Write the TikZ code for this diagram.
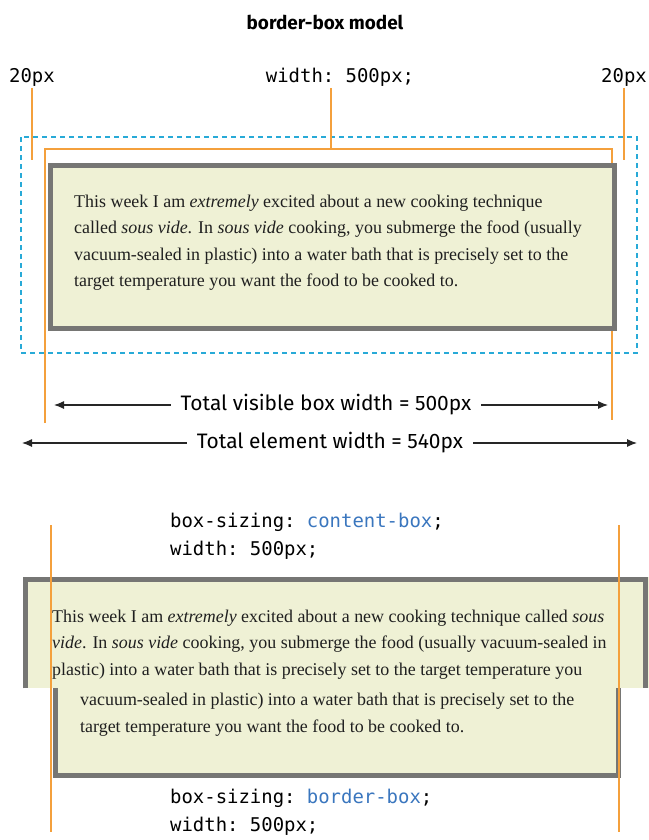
\documentclass[tikz,border=0pt]{standalone}
\usepackage{fontspec}
\setmainfont{Fira Sans}
\setmonofont{DejaVu Sans Mono}
\newfontfamily\bodyserif{Liberation Serif}
\usetikzlibrary{arrows.meta,positioning}

\definecolor{guideorange}{RGB}{244,160,60}
\definecolor{dashcyan}{RGB}{40,170,215}
\definecolor{boxfill}{RGB}{239,241,213}
\definecolor{boxedge}{RGB}{118,118,116}
\definecolor{keyword}{RGB}{58,118,190}

\tikzset{
  titletext/.style={font=\bfseries\fontsize{19}{22}\selectfont, inner sep=0},
  codetext/.style={font=\ttfamily\fontsize{19}{28}\selectfont, align=left, inner sep=1.5bp},
  dimtext/.style={font=\fontsize{21}{24}\selectfont, inner xsep=10bp, inner ysep=0},
  bodytext/.style={font=\bodyserif\fontsize{18}{26.7}\selectfont, text=black!88, align=left, anchor=north west, inner sep=0},
  guideline/.style={draw=guideorange, line width=1.4bp},
  dashline/.style={draw=dashcyan, line width=1.6bp, dash pattern=on 5bp off 4bp},
  cssbox/.style={draw=boxedge, line width=5bp, fill=boxfill, inner sep=0},
  dimarrow/.style={-{Latex[length=10bp,width=8bp]}, line width=1.1bp, black!85},
}

\begin{document}
\begin{tikzpicture}[x=1bp, y=-1bp]
	\useasboundingbox (0,0) rectangle (649,840);
	% border-box model
	\node[titletext] (title) at (325,22) {border-box model};
	\node[codetext] (padl) at (32,77) {20px};
	\node[codetext] (wtop) at (340,77) {width: 500px;};
	\node[codetext] (padr) at (624,77) {20px};
	\coordinate (mtl) at (21,137);
	\coordinate (mbr) at (637,353);
	\draw[dashline] (mtl) rectangle (mbr);
	\coordinate (padlend) at (32,160);
	\coordinate (padrend) at (624,160);
	\coordinate (wmid) at (331,149);
	\coordinate (visTL) at (45,149);
	\coordinate (visTR) at (612,149);
	\coordinate (visBL) at (45,423);
	\coordinate (visBR) at (612,420);
	\draw[guideline] (padl) -- (padlend);
	\draw[guideline] (padr) -- (padrend);
	\draw[guideline] (wtop.south -| wmid) -- (wmid);
	\draw[guideline] (visBL) -- (visTL) -- (visTR) -- (visBR);
	\node[cssbox, anchor=north west, minimum width=564bp, minimum height=163bp] (boxA) at (47.5,162.5) {};
	\node[bodytext] (textA) at (74,194.5) {This week I am \textit{extremely} excited about a new cooking technique\\
		called \textit{sous vide}. In \textit{sous vide} cooking, you submerge the food (usually\\
		vacuum-sealed in plastic) into a water bath that is precisely set to the\\
		target temperature you want the food to be cooked to.};
	% widths
	\node[dimtext] (visw) at (326,405) {Total visible box width = 500px};
	\coordinate (viswl) at (54,405);
	\coordinate (viswr) at (608,405);
	\draw[dimarrow] (visw) -- (viswl);
	\draw[dimarrow] (visw) -- (viswr);
	\node[dimtext] (elw) at (330,443) {Total element width = 540px};
	\coordinate (elwl) at (22,443);
	\coordinate (elwr) at (637,443);
	\draw[dimarrow] (elw) -- (elwl);
	\draw[dimarrow] (elw) -- (elwr);
	% content-box against border-box
	\node[codetext, anchor=north west, inner sep=0] (csC) at (170,513) {box-sizing: \textcolor{keyword}{content-box};\\width: 500px;};
	\node[cssbox, anchor=north west, minimum width=563bp, minimum height=110bp] (boxC) at (52.5,662.5) {};
	\node[bodytext] (textC) at (80,693) {vacuum-sealed in plastic) into a water bath that is precisely set to the\\
		target temperature you want the food to be cooked to.};
	\node[fill=boxfill, anchor=north west, minimum width=626bp, minimum height=111bp, inner sep=0] (boxB) at (23,577) {};
	\draw[boxedge, line width=5bp] ([xshift=2.5bp]boxB.south west) -- ([xshift=2.5bp,yshift=-2.5bp]boxB.north west) -- ([xshift=-4bp,yshift=-2.5bp]boxB.north east) -- ([xshift=-4bp]boxB.south east);
	\node[bodytext] (textB) at (52,609.5) {This week I am \textit{extremely} excited about a new cooking technique called \textit{sous}\\
		\textit{vide}. In \textit{sous vide} cooking, you submerge the food (usually vacuum-sealed in\\
		plastic) into a water bath that is precisely set to the target temperature you};
	\coordinate (cbTL) at (51,525);
	\coordinate (cbBL) at (51,832);
	\coordinate (cbTR) at (619,525);
	\coordinate (cbBR) at (619,832);
	\draw[guideline] (cbTL) -- (cbBL);
	\draw[guideline] (cbTR) -- (cbBR);
	\node[codetext, anchor=north west, inner sep=0] (csB) at (170,789) {box-sizing: \textcolor{keyword}{border-box};\\width: 500px;};
\end{tikzpicture}
\end{document}
